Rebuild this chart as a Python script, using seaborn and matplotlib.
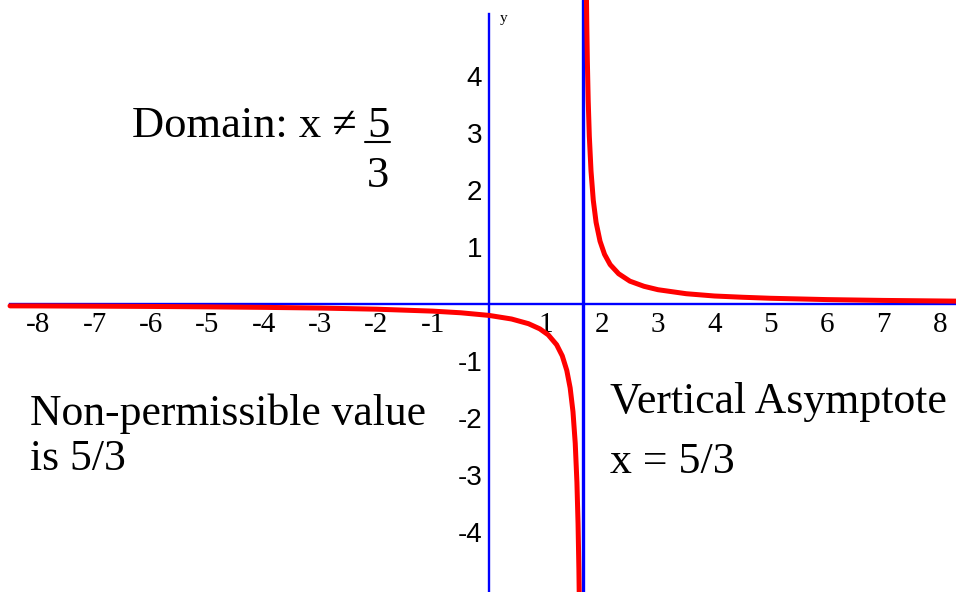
import matplotlib
matplotlib.use("Agg")
import matplotlib.pyplot as plt
import seaborn as sns

# points (left and right branch)
left_x = [-8.5, -8, -7, -6, -5, -4, -3, -2, -1, -0.5, 0, 0.4, 0.7, 0.9, 1.05, 1.2,
          1.3, 1.38, 1.44, 1.49, 1.53, 1.56, 1.58, 1.595, 1.605]
left_y = [-0.033, -0.034, -0.038, -0.043, -0.05, -0.059, -0.071, -0.091, -0.125, -0.154,
          -0.2, -0.263, -0.345, -0.435, -0.54, -0.714, -0.909, -1.163, -1.47, -1.887,
          -2.44, -3.125, -3.85, -4.65, -5.4]
right_x = [1.727, 1.735, 1.745, 1.76, 1.78, 1.81, 1.85, 1.9, 1.97, 2.05, 2.15, 2.3,
           2.5, 2.75, 3, 3.5, 4, 4.5, 5, 6, 7, 8.3]
right_y = [5.52, 4.88, 4.26, 3.57, 2.94, 2.33, 1.82, 1.43, 1.10, 0.87, 0.69, 0.53,
           0.4, 0.31, 0.25, 0.18, 0.14, 0.118, 0.1, 0.077, 0.0625, 0.05]
asymptote_x = 5 / 3

x_ticks = [-8, -7, -6, -5, -4, -3, -2, -1, 1, 2, 3, 4, 5, 6, 7, 8]
x_tick_labels = [str(v) for v in x_ticks]
y_ticks = [-5, -4, -3, -2, -1, 1, 2, 3, 4, 5]
y_tick_labels = ["", "-4", "-3", "-2", "-1", "1", "2", "3", "4", ""]

sns.set_style("white")
plt.rcParams["font.family"] = ["Liberation Serif", "DejaVu Serif"]
plt.rcParams["text.color"] = "black"

fig = plt.figure(figsize=(9.56, 5.92), dpi=100)
ax = fig.add_axes([0, 0, 1, 1])

blue = "#0000ff"
ax.axvline(asymptote_x, color=blue, linewidth=2.4, zorder=2)
sns.lineplot(x=left_x, y=left_y, sort=False, estimator=None, color="red",
             linewidth=3.6, ax=ax, zorder=4)
sns.lineplot(x=right_x, y=right_y, sort=False, estimator=None, color="red",
             linewidth=3.6, ax=ax, zorder=4)

ax.set_xlim(-8.678, 8.287)
ax.set_ylim(-5.046, 5.326)

# axes through the origin
for side in ["top", "right"]:
    ax.spines[side].set_visible(False)
ax.spines["left"].set_position(("data", 0))
ax.spines["bottom"].set_position(("data", 0))
ax.spines["left"].set_bounds(-5.06, 5.08)
ax.spines["bottom"].set_bounds(-8.5, 8.29)
for side in ["left", "bottom"]:
    ax.spines[side].set_color(blue)
    ax.spines[side].set_linewidth(1.7)
    ax.spines[side].set_zorder(3)

ax.set_xticks(x_ticks, x_tick_labels)
ax.set_yticks(y_ticks, y_tick_labels)
ax.tick_params(direction="inout", length=8.6, width=0.9, color="#7a7aff", pad=1.5,
               labelcolor="black")
ax.tick_params(axis="x", labelsize=21)
ax.tick_params(axis="y", labelsize=20, pad=0.5)
for lab in ax.get_yticklabels():
    lab.set_fontfamily(["Liberation Sans", "DejaVu Sans"])
ax.set_xlabel("")
ax.set_ylabel("")
ax.grid(False)


def px(x, y):
    return x / 956, 1 - y / 592


tf = fig.transFigure
fig.text(*px(500, 22), "y", fontsize=11, transform=tf)

fig.text(*px(132, 137), "Domain: x \u2260", fontsize=32, va="baseline", transform=tf)
fig.text(*px(367, 137), "5", fontsize=32, va="baseline", transform=tf)
fig.add_artist(plt.Line2D([365 / 956, 390 / 956], [1 - 142 / 592, 1 - 142 / 592],
                          color="black", linewidth=1.5, transform=tf))
fig.text(*px(367, 187), "3", fontsize=32, va="baseline", transform=tf)

fig.text(*px(30, 425), "Non-permissible value", fontsize=31.4, va="baseline", transform=tf)
fig.text(*px(30, 470), "is 5/3", fontsize=31.4, va="baseline", transform=tf)

fig.text(*px(610, 413), "Vertical Asymptote", fontsize=31.6, va="baseline", transform=tf)
fig.text(*px(610, 473), "x = 5/3", fontsize=31.6, va="baseline", transform=tf)

fig.savefig("out.png", dpi=100)
